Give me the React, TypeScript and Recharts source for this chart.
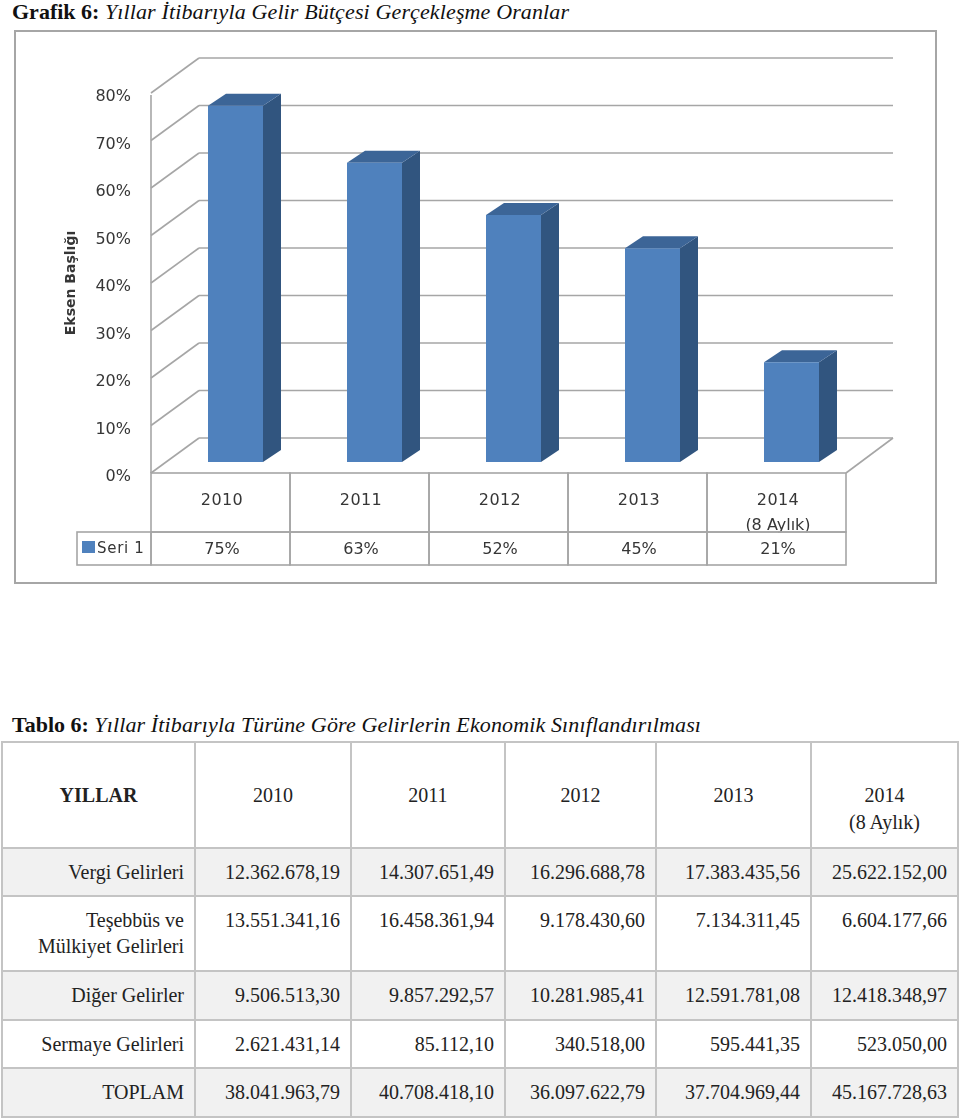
import { Bar, BarChart, CartesianGrid, Cell, XAxis, YAxis } from 'recharts';

const years = ['2010', '2011', '2012', '2013', '2014'];
const yearNotes = ['', '', '', '', '(8 Aylık)'];
const realized = [75, 63, 52, 45, 21];
const percentTicks = [0, 10, 20, 30, 40, 50, 60, 70, 80];

const tableYears = ['2010', '2011', '2012', '2013', '2014'];
const rowLabels = [
  ['Vergi Gelirleri'],
  ['Teşebbüs ve', 'Mülkiyet Gelirleri'],
  ['Diğer Gelirler'],
  ['Sermaye Gelirleri'],
  ['TOPLAM'],
];
const vergi = ['12.362.678,19', '14.307.651,49', '16.296.688,78', '17.383.435,56', '25.622.152,00'];
const tesebbus = ['13.551.341,16', '16.458.361,94', '9.178.430,60', '7.134.311,45', '6.604.177,66'];
const diger = ['9.506.513,30', '9.857.292,57', '10.281.985,41', '12.591.781,08', '12.418.348,97'];
const sermaye = ['2.621.431,14', '85.112,10', '340.518,00', '595.441,35', '523.050,00'];
const toplam = ['38.041.963,79', '40.708.418,10', '36.097.622,79', '37.704.969,44', '45.167.728,63'];
const tableRows = [vergi, tesebbus, diger, sermaye, toplam];
const rowHeights = [48, 75, 49, 48, 49];

const chartData = years.map((year, i) => ({ year, note: yearNotes[i], value: realized[i] }));

const GREY = '#a6a6a6';
const LABEL = '#363636';
const CHART_FONT = '"DejaVu Sans", sans-serif';
const SERIF = '"Liberation Serif", serif';

// 3B gorunum icin kaydirmalar
const BACK_DX = 33;
const BACK_DY = -24;
const FRONT_DX = -15;
const FRONT_DY = 11;
const PLOT_RIGHT = 861;
const TABLE_TOP = 473;
const ROW_SPLIT = 532;
const TABLE_BOTTOM = 565;

function Box3D(props: any) {
  const { x, y, width, height } = props;
  const bottom = y + height;
  const right = x + width;
  const dx = 18;
  const dy = 12;
  return (
    <g>
      <polygon
        points={`${right},${y} ${right + dx},${y - dy} ${right + dx},${bottom - dy} ${right},${bottom}`}
        fill="#31557f"
      />
      <polygon
        points={`${x},${y} ${x + dx},${y - dy} ${right + dx},${y - dy} ${right},${y}`}
        fill="#3c6597"
      />
      <rect x={x} y={y} width={width} height={height} fill="#4f81bd" />
    </g>
  );
}

function WallLine(props: any) {
  const { x1, y1 } = props;
  const backY = y1 + BACK_DY;
  return (
    <g stroke={GREY} strokeWidth={1.6} fill="none">
      <line x1={x1 + BACK_DX} y1={backY} x2={PLOT_RIGHT + BACK_DX - 1} y2={backY} />
      <line x1={x1 + BACK_DX} y1={backY} x2={x1 + FRONT_DX} y2={y1 + FRONT_DY} />
    </g>
  );
}

function PercentTick(props: any) {
  const { y, payload } = props;
  return (
    <text
      x={131}
      y={y + FRONT_DY + 8}
      textAnchor="end"
      fontFamily={CHART_FONT}
      fontSize={16}
      fill={LABEL}
    >
      {payload.value}%
    </text>
  );
}

function YearCell(props: any) {
  const { x, index, payload } = props;
  const cellWidth = 139;
  const left = x + FRONT_DX - cellWidth / 2;
  const center = left + cellWidth / 2 + 1.5;
  return (
    <g fontFamily={CHART_FONT} fill={LABEL} textAnchor="middle">
      <text x={center} y={505} fontSize={16} fontWeight={500} letterSpacing={0.4}>
        {payload.value}
      </text>
      {yearNotes[index] ? (
        <text x={center} y={530} fontSize={16}>
          {yearNotes[index]}
        </text>
      ) : null}
      <rect x={left} y={TABLE_TOP} width={cellWidth} height={ROW_SPLIT - TABLE_TOP} fill="none" stroke={GREY} strokeWidth={1.6} />
      <rect x={left} y={ROW_SPLIT} width={cellWidth} height={TABLE_BOTTOM - ROW_SPLIT} fill="none" stroke={GREY} strokeWidth={1.6} />
      <text x={center} y={554} fontSize={16}>
        {realized[index]}%
      </text>
    </g>
  );
}

function ChartPanel() {
  return (
    <div style={{ position: 'absolute', left: 0, top: 0, filter: 'blur(0.45px)' }}>
      <BarChart
        width={960}
        height={600}
        data={chartData}
        margin={{ top: 82, right: 960 - PLOT_RIGHT, bottom: 0, left: 0 }}
        barCategoryGap={0}
      >
        <rect x={15} y={31} width={921} height={552} fill="none" stroke={GREY} strokeWidth={2} />
        <CartesianGrid vertical={false} horizontal={(p: any) => <WallLine key={p.key} {...p} />} />
        <XAxis
          dataKey="year"
          axisLine={false}
          tickLine={false}
          interval={0}
          height={138}
          tick={(p: any) => <YearCell {...p} />}
        />
        <YAxis
          width={166}
          domain={[0, 80]}
          ticks={percentTicks}
          axisLine={false}
          tickLine={false}
          tick={(p: any) => <PercentTick {...p} />}
        />
        <line x1={151} y1={95} x2={151} y2={TABLE_TOP} stroke={GREY} strokeWidth={1.6} />
        <line x1={846} y1={TABLE_TOP} x2={893} y2={438} stroke={GREY} strokeWidth={1.6} />
        <Bar dataKey="value" barSize={55} shape={(p: any) => <Box3D {...p} />} isAnimationActive={false}>
          {chartData.map((d) => (
            <Cell key={d.year} fill="#4f81bd" />
          ))}
        </Bar>
        <text
          transform="translate(75 283) rotate(-90)"
          textAnchor="middle"
          fontFamily={CHART_FONT}
          fontSize={14}
          fontWeight={700}
          fill={LABEL}
        >
          Eksen Başlığı
        </text>
        <rect x={77} y={ROW_SPLIT} width={74} height={TABLE_BOTTOM - ROW_SPLIT} fill="none" stroke={GREY} strokeWidth={1.6} />
        <rect x={82} y={541} width={13} height={12} fill="#4f81bd" />
        <text x={97} y={553} fontFamily={CHART_FONT} fontSize={15} letterSpacing={0.7} fill={LABEL}>
          Seri 1
        </text>
      </BarChart>
    </div>
  );
}

const cellBorder = '2px solid #c4c4c4';

function RevenueTable() {
  const colWidths = [193, 156, 154, 151, 155, 147];
  const cell = { border: cellBorder, padding: 0 };
  return (
    <table
      style={{
        position: 'absolute',
        left: 1,
        top: 741,
        width: 957,
        tableLayout: 'fixed',
        borderCollapse: 'collapse',
        fontFamily: SERIF,
        fontSize: 20,
        lineHeight: '26px',
        color: '#222',
      }}
    >
      <colgroup>
        {colWidths.map((w, i) => (
          <col key={i} style={{ width: w }} />
        ))}
      </colgroup>
      <tbody>
        <tr style={{ height: 106 }}>
          <td style={{ ...cell, verticalAlign: 'top', paddingTop: 39, textAlign: 'center', fontWeight: 700 }}>YILLAR</td>
          {tableYears.map((y, i) => (
            <td key={y} style={{ ...cell, verticalAlign: 'top', paddingTop: 39, textAlign: 'center' }}>
              {y}
              {i === 4 ? <div style={{ marginTop: 1 }}>(8 Aylık)</div> : null}
            </td>
          ))}
        </tr>
        {tableRows.map((row, r) => (
          <tr key={r} style={{ height: rowHeights[r], background: r % 2 === 0 ? '#f1f1f1' : '#fff' }}>
            <td style={{ ...cell, verticalAlign: 'top', paddingTop: 10, paddingRight: 10, textAlign: 'right' }}>
              {rowLabels[r].map((l) => (
                <div key={l}>{l}</div>
              ))}
            </td>
            {row.map((v, c) => (
              <td key={c} style={{ ...cell, verticalAlign: 'top', paddingTop: 10, paddingRight: 10, textAlign: 'right' }}>
                {v}
              </td>
            ))}
          </tr>
        ))}
      </tbody>
    </table>
  );
}

export default function App() {
  const titleItalic = { letterSpacing: 0.13 };
  return (
    <div style={{ position: 'absolute', left: 0, top: 0, width: 960, height: 1119, background: '#fff', overflow: 'hidden' }}>
      <ChartPanel />
      <div style={{ position: 'absolute', left: 12, top: 0, fontFamily: SERIF, fontSize: 22, lineHeight: '24px', color: '#111', whiteSpace: 'nowrap' }}>
        <b>Grafik 6:</b> <i style={titleItalic}>Yıllar İtibarıyla Gelir Bütçesi Gerçekleşme Oranlar</i>
      </div>
      <div style={{ position: 'absolute', left: 12, top: 713, fontFamily: SERIF, fontSize: 22, lineHeight: '24px', color: '#111', whiteSpace: 'nowrap' }}>
        <b>Tablo 6:</b> <i style={titleItalic}>Yıllar İtibarıyla Türüne Göre Gelirlerin Ekonomik Sınıflandırılması</i>
      </div>
      <RevenueTable />
    </div>
  );
}
